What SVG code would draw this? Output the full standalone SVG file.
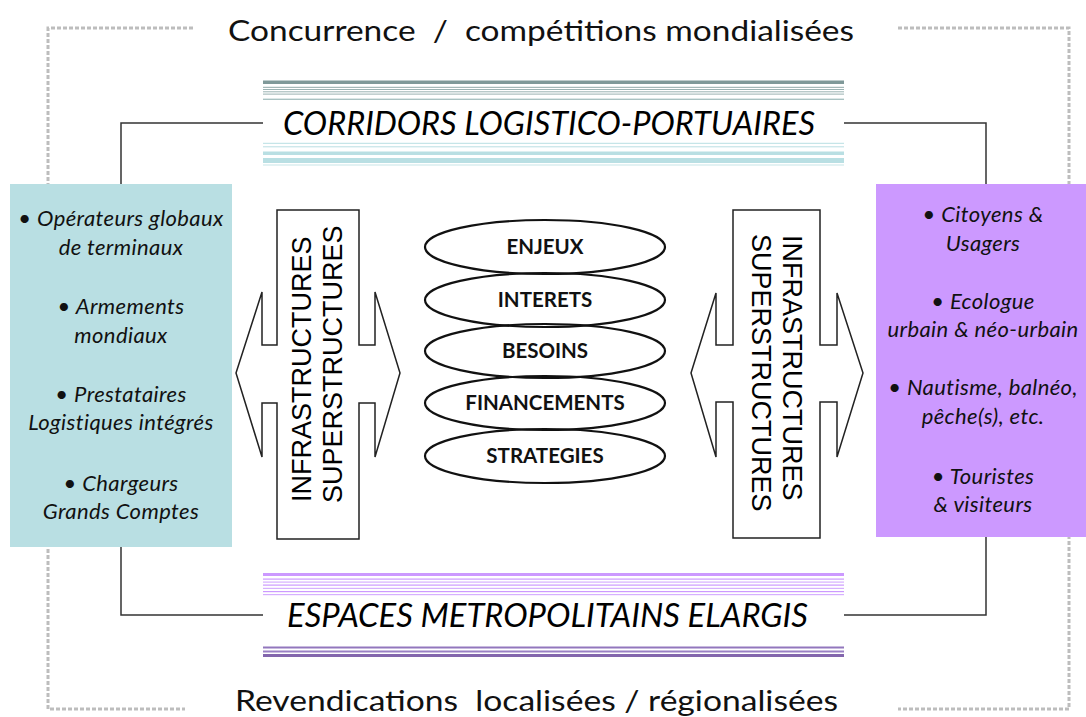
<svg xmlns="http://www.w3.org/2000/svg" width="1086" height="717" viewBox="0 0 1086 717">
<style>
.frame{fill:none;stroke:#bdbdbd;stroke-width:3;stroke-dasharray:4 2}
.conn{fill:none;stroke:#333;stroke-width:1.5}
.big{font-family:Lato,"Liberation Sans",sans-serif;font-size:29px;fill:#111;white-space:pre}
.title{font-family:Lato,"Liberation Sans",sans-serif;font-size:32px;font-style:italic;fill:#000}
.box{font-family:Lato,"Liberation Sans",sans-serif;font-size:22px;letter-spacing:0.4px;font-style:italic;fill:#111;text-anchor:middle}
.arrow{fill:#fff;stroke:#222;stroke-width:1.5;stroke-linejoin:miter}
.vt{font-family:"Liberation Sans",Arial,sans-serif;font-size:27px;fill:#000}
.ell{fill:none;stroke:#111;stroke-width:2.2}
.et{font-family:Lato,"Liberation Sans",sans-serif;font-size:20.5px;font-weight:bold;fill:#111;text-anchor:middle}
</style>
<rect width="1086" height="717" fill="#fff"/>
<g id="frame">
<path class="frame" d="M193 28 H48 V709 H185"/>
<path class="frame" d="M898 28 H1069 V709 H898"/>
</g>
<text class="big" x="228" y="41" textLength="626" lengthAdjust="spacingAndGlyphs">Concurrence  /  compétitions mondialisées</text>
<text class="big" x="235" y="711" textLength="603" lengthAdjust="spacingAndGlyphs">Revendications  localisées / régionalisées</text>
<g id="connectors">
<path class="conn" d="M263 123 H121 V184"/>
<path class="conn" d="M844 123 H986 V184"/>
<path class="conn" d="M121 547 V615 H263"/>
<path class="conn" d="M986 537 V615 H844"/>
</g>
<g id="corridors">
<rect x="263" y="80.5" width="581" height="3.5" fill="#7f9999"/>
<rect x="263" y="86.8" width="581" height="1" fill="#8fa8a8"/>
<rect x="263" y="89" width="581" height="1" fill="#9ab2b2"/>
<rect x="263" y="91.3" width="581" height="1" fill="#9ab2b2"/>
<rect x="263" y="93.6" width="581" height="1" fill="#9ab2b2"/>
<rect x="263" y="98.6" width="581" height="1.4" fill="#a9c2c2"/>
<text class="title" x="283" y="135" textLength="532" lengthAdjust="spacingAndGlyphs">CORRIDORS LOGISTICO-PORTUAIRES</text>
<rect x="263" y="142.8" width="581" height="1" fill="#b9dfe3"/>
<rect x="263" y="146.3" width="581" height="1" fill="#b9dfe3"/>
<rect x="263" y="151.5" width="581" height="3.5" fill="#b9dfe3"/>
<rect x="263" y="158" width="581" height="5" fill="#b9dfe3"/>
<rect x="263" y="164.5" width="581" height="1" fill="#c8e6e8"/>
</g>
<g id="espaces">
<rect x="263" y="573" width="581" height="3" fill="#cc99ff"/>
<rect x="263" y="578.5" width="581" height="1.2" fill="#cc99ff"/>
<rect x="263" y="581.5" width="581" height="1.2" fill="#d6b0ff"/>
<rect x="263" y="584.5" width="581" height="1.2" fill="#cc99ff"/>
<rect x="263" y="587.8" width="581" height="1.2" fill="#d6b0ff"/>
<rect x="263" y="591" width="581" height="1.2" fill="#cc99ff"/>
<rect x="263" y="594" width="581" height="1.2" fill="#d6b0ff"/>
<text class="title" x="287" y="627" textLength="521" lengthAdjust="spacingAndGlyphs">ESPACES METROPOLITAINS ELARGIS</text>
<rect x="263" y="646.5" width="581" height="2" fill="#9277bd"/>
<rect x="263" y="650.5" width="581" height="2" fill="#9a80c4"/>
<rect x="263" y="654" width="581" height="3" fill="#8366ad"/>
</g>
<g id="left-box">
<rect x="10" y="184" width="222" height="363" fill="#b9dfe3"/>
<text class="box" x="121" y="226">• Opérateurs globaux</text>
<text class="box" x="121" y="255">de terminaux</text>
<text class="box" x="121" y="314">• Armements</text>
<text class="box" x="121" y="343">mondiaux</text>
<text class="box" x="121" y="402">• Prestataires</text>
<text class="box" x="121" y="430">Logistiques intégrés</text>
<text class="box" x="121" y="491">• Chargeurs</text>
<text class="box" x="121" y="519">Grands Comptes</text>
</g>
<g id="right-box">
<rect x="876" y="184" width="210" height="353" fill="#cc99ff"/>
<text class="box" x="983" y="222">• Citoyens &amp;</text>
<text class="box" x="983" y="251">Usagers</text>
<text class="box" x="983" y="309">• Ecologue</text>
<text class="box" x="983" y="337">urbain &amp; néo-urbain</text>
<text class="box" x="983" y="395">• Nautisme, balnéo,</text>
<text class="box" x="983" y="424">pêche(s), etc.</text>
<text class="box" x="983" y="484">• Touristes</text>
<text class="box" x="983" y="512">&amp; visiteurs</text>
</g>
<g id="left-arrow">
<path class="arrow" d="M277 210 H359 V345 H375 V292 L400 373 L375 457 V403 H359 V539 H277 V403 H262 V457 L236 373 L262 292 V345 H277 Z"/>
<text class="vt" transform="translate(311,502) rotate(-90)">INFRASTRUCTURES</text>
<text class="vt" transform="translate(342,503) rotate(-90)">SUPERSTRUCTURES</text>
</g>
<g id="right-arrow">
<path class="arrow" d="M733 210 H820 V345 H837 V293 L863 373 L837 457 V402 H820 V538 H733 V402 H716 V457 L691 373 L716 293 V345 H733 Z"/>
<text class="vt" transform="translate(783,235) rotate(90)">INFRASTRUCTURES</text>
<text class="vt" transform="translate(752,234) rotate(90)">SUPERSTRUCTURES</text>
</g>
<g id="stack">
<ellipse class="ell" cx="545" cy="247" rx="120" ry="27"/>
<ellipse class="ell" cx="545" cy="300" rx="120" ry="27"/>
<ellipse class="ell" cx="545" cy="351" rx="120" ry="27"/>
<ellipse class="ell" cx="545" cy="403" rx="120" ry="27"/>
<ellipse class="ell" cx="545" cy="456" rx="120" ry="27"/>
<text class="et" x="545" y="254">ENJEUX</text>
<text class="et" x="545" y="307">INTERETS</text>
<text class="et" x="545" y="358">BESOINS</text>
<text class="et" x="545" y="410">FINANCEMENTS</text>
<text class="et" x="545" y="463">STRATEGIES</text>
</g>
</svg>
